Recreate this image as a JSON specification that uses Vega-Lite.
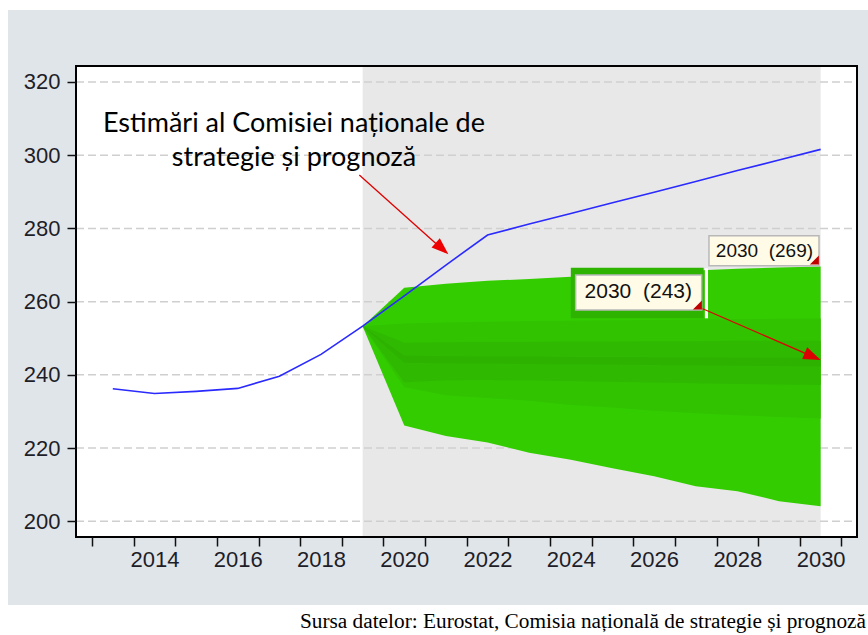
{
  "$schema": "https://vega.github.io/schema/vega-lite/v6.json",
  "width": 781,
  "height": 471,
  "autosize": {"type": "none"},
  "padding": {"left": 76, "top": 66, "right": 11, "bottom": 98},
  "background": "#ffffff",
  "config": {"view": {"stroke": null}},
  "datasets": {
    "panel": [{"x": 2010.483, "x2": 2031.4, "y": 177.14, "y2": 339.67}],
    "plot": [{"x": 2012.116, "x2": 2030.873, "y": 195.71, "y2": 324.37}],
    "shade": [{"x": 2019, "x2": 2030, "y": 195.71, "y2": 324.37}],
    "grid": [
      {"x": 2012.116, "x2": 2030.873, "y": 200},
      {"x": 2012.116, "x2": 2030.873, "y": 220},
      {"x": 2012.116, "x2": 2030.873, "y": 240},
      {"x": 2012.116, "x2": 2030.873, "y": 260},
      {"x": 2012.116, "x2": 2030.873, "y": 280},
      {"x": 2012.116, "x2": 2030.873, "y": 300},
      {"x": 2012.116, "x2": 2030.873, "y": 320}
    ],
    "fanA": [
      {"x": 2019, "y": 253.3, "y2": 253.3},
      {"x": 2020, "y": 226.2, "y2": 263.8},
      {"x": 2021, "y": 223.3, "y2": 264.9},
      {"x": 2022, "y": 221.5, "y2": 265.7},
      {"x": 2023, "y": 218.7, "y2": 266.2},
      {"x": 2024, "y": 216.8, "y2": 266.8},
      {"x": 2025, "y": 214.5, "y2": 267.3},
      {"x": 2026, "y": 212.3, "y2": 267.9},
      {"x": 2027, "y": 209.6, "y2": 268.5},
      {"x": 2028, "y": 208.2, "y2": 269.0},
      {"x": 2029, "y": 205.5, "y2": 269.3},
      {"x": 2030, "y": 204.1, "y2": 269.6}
    ],
    "fanB": [
      {"x": 2019, "y": 253.3, "y2": 253.3},
      {"x": 2020, "y": 236.6, "y2": 254.0},
      {"x": 2021, "y": 234.4, "y2": 254.3},
      {"x": 2022, "y": 233.7, "y2": 254.5},
      {"x": 2023, "y": 232.9, "y2": 254.7},
      {"x": 2024, "y": 231.8, "y2": 254.8},
      {"x": 2025, "y": 231.1, "y2": 254.9},
      {"x": 2026, "y": 230.2, "y2": 255.0},
      {"x": 2027, "y": 229.5, "y2": 255.1},
      {"x": 2028, "y": 229.0, "y2": 255.2},
      {"x": 2029, "y": 228.5, "y2": 255.3},
      {"x": 2030, "y": 228.1, "y2": 255.4}
    ],
    "fanC": [
      {"x": 2019, "y": 253.3, "y2": 253.3},
      {"x": 2020, "y": 238.0, "y2": 248.8},
      {"x": 2021, "y": 238.5, "y2": 248.9},
      {"x": 2022, "y": 238.6, "y2": 249.0},
      {"x": 2023, "y": 238.5, "y2": 249.0},
      {"x": 2024, "y": 238.3, "y2": 249.1},
      {"x": 2025, "y": 238.1, "y2": 249.1},
      {"x": 2026, "y": 237.9, "y2": 249.2},
      {"x": 2027, "y": 237.7, "y2": 249.2},
      {"x": 2028, "y": 237.5, "y2": 249.3},
      {"x": 2029, "y": 237.4, "y2": 249.3},
      {"x": 2030, "y": 237.2, "y2": 249.3}
    ],
    "fanD": [
      {"x": 2019, "y": 253.3, "y2": 253.3},
      {"x": 2020, "y": 243.3, "y2": 245.2},
      {"x": 2021, "y": 243.2, "y2": 245.1},
      {"x": 2022, "y": 243.1, "y2": 245.0},
      {"x": 2023, "y": 243.0, "y2": 245.0},
      {"x": 2024, "y": 242.9, "y2": 244.9},
      {"x": 2025, "y": 242.8, "y2": 244.9},
      {"x": 2026, "y": 242.7, "y2": 244.8},
      {"x": 2027, "y": 242.6, "y2": 244.8},
      {"x": 2028, "y": 242.5, "y2": 244.7},
      {"x": 2029, "y": 242.4, "y2": 244.7},
      {"x": 2030, "y": 242.3, "y2": 244.6}
    ],
    "overlay": [{"x": 2024.0, "x2": 2027.19, "y": 255.45, "y2": 269.27}],
    "whiteline": [{"x": 2027.22, "x2": 2027.294, "y": 255.45, "y2": 269.1}],
    "blue": [
      {"x": 2013, "y": 236.2},
      {"x": 2014, "y": 234.9},
      {"x": 2015, "y": 235.5},
      {"x": 2016, "y": 236.3},
      {"x": 2017, "y": 239.6},
      {"x": 2018, "y": 245.6},
      {"x": 2019, "y": 253.3},
      {"x": 2020, "y": 261.6},
      {"x": 2021, "y": 270.0},
      {"x": 2022, "y": 278.2},
      {"x": 2023, "y": 281.2},
      {"x": 2024, "y": 284.1},
      {"x": 2025, "y": 287.0},
      {"x": 2026, "y": 289.9},
      {"x": 2027, "y": 292.8},
      {"x": 2028, "y": 295.8},
      {"x": 2029, "y": 298.7},
      {"x": 2030, "y": 301.6}
    ],
    "arrows": [
      {"x": 2018.92, "y": 294.6, "x2": 2021.0, "y2": 273.4},
      {"x": 2027.14, "y": 258.19, "x2": 2029.95, "y2": 244.3}
    ],
    "tip1": [{"x": 2021.06, "y": 272.93}],
    "tip2": [{"x": 2030.0, "y": 244.06}],
    "boxes": [
      {"x": 2024.116, "x2": 2027.142, "y": 257.72, "y2": 267.28},
      {"x": 2027.318, "x2": 2029.96, "y": 269.82, "y2": 278.02}
    ],
    "corners": [
      {"x": 2027.04, "y": 259.09},
      {"x": 2029.85, "y": 271.38}
    ],
    "lab243": [{"x": 2025.62, "y": 262.64, "t": "2030 \u00a0(243)"}],
    "lab269": [{"x": 2028.65, "y": 273.78, "t": "2030 \u00a0(269)"}],
    "note": [{"x": 2017.351, "y": 306.42, "t": "Estimări al Comisiei naționale de\nstrategie și prognoză"}],
    "source": [{"x": 2031.088, "y": 170.86, "t": "Sursa datelor: Eurostat, Comisia națională de strategie și prognoză"}]
  },
  "encoding": {
    "x": {
      "field": "x",
      "type": "quantitative",
      "scale": {"domain": [2012.116, 2030.873], "nice": false, "zero": false},
      "axis": {
        "title": null,
        "orient": "bottom",
        "values": [2012.5, 2013.5, 2014.5, 2015.5, 2016.5, 2017.5, 2018.5, 2019.5, 2020.5, 2021.5, 2022.5, 2023.5, 2024.5, 2025.5, 2026.5, 2027.5, 2028.5, 2029.5, 2030.5],
        "labelExpr": "(datum.value + 0.5) % 2 == 0 ? format(datum.value + 0.5, 'd') : ''",
        "labelOffset": 20.8,
        "labelOverlap": false,
        "labelFlush": false,
        "labelBound": false,
        "labelFont": "Liberation Sans",
        "labelFontSize": 22,
        "labelColor": "#1e1e28",
        "labelPadding": 3,
        "tickSize": 9,
        "tickWidth": 1.5,
        "tickColor": "#111111",
        "domain": false,
        "grid": false,
        "zindex": 1
      }
    },
    "y": {
      "field": "y",
      "type": "quantitative",
      "scale": {"domain": [195.71, 324.37], "nice": false, "zero": false},
      "axis": {
        "title": null,
        "values": [200, 220, 240, 260, 280, 300, 320],
        "format": "d",
        "labelFont": "Liberation Sans",
        "labelFontSize": 22,
        "labelColor": "#1e1e28",
        "labelPadding": 7,
        "tickSize": 9,
        "tickWidth": 1.5,
        "tickColor": "#111111",
        "domain": false,
        "grid": false,
        "zindex": 1
      }
    }
  },
  "layer": [
    {"data": {"name": "panel"}, "mark": {"type": "rect", "fill": "#e0e5ea", "clip": false}, "encoding": {"x2": {"field": "x2"}, "y2": {"field": "y2"}}},
    {"data": {"name": "plot"}, "mark": {"type": "rect", "fill": "#ffffff"}, "encoding": {"x2": {"field": "x2"}, "y2": {"field": "y2"}}},
    {"data": {"name": "shade"}, "mark": {"type": "rect", "fill": "#e8e8e8"}, "encoding": {"x2": {"field": "x2"}, "y2": {"field": "y2"}}},
    {"data": {"name": "grid"}, "mark": {"type": "rule", "stroke": "#cfcfcf", "strokeWidth": 1.5, "strokeDash": [8, 4]}, "encoding": {"x2": {"field": "x2"}}},
    {"data": {"name": "fanA"}, "mark": {"type": "area", "fill": "#33cc00", "interpolate": "linear"}, "encoding": {"y2": {"field": "y2"}}},
    {"data": {"name": "fanB"}, "mark": {"type": "area", "fill": "#31c300", "interpolate": "linear"}, "encoding": {"y2": {"field": "y2"}}},
    {"data": {"name": "fanC"}, "mark": {"type": "area", "fill": "#2fb900", "interpolate": "linear"}, "encoding": {"y2": {"field": "y2"}}},
    {"data": {"name": "fanD"}, "mark": {"type": "area", "fill": "#2db200", "interpolate": "linear"}, "encoding": {"y2": {"field": "y2"}}},
    {"data": {"name": "overlay"}, "mark": {"type": "rect", "fill": "#2eb300"}, "encoding": {"x2": {"field": "x2"}, "y2": {"field": "y2"}}},
    {"data": {"name": "whiteline"}, "mark": {"type": "rect", "fill": "#ffffff"}, "encoding": {"x2": {"field": "x2"}, "y2": {"field": "y2"}}},
    {"data": {"name": "blue"}, "mark": {"type": "line", "stroke": "#2a2aff", "strokeWidth": 1.6, "interpolate": "linear"}, "encoding": {}},
    {"data": {"name": "arrows"}, "mark": {"type": "rule", "stroke": "#e00000", "strokeWidth": 1.3}, "encoding": {"x2": {"field": "x2"}, "y2": {"field": "y2"}}},
    {"data": {"name": "tip1"}, "mark": {"type": "point", "shape": "M0,0 L-2.2,-0.8 L-2.2,0.8 Z", "size": 240, "filled": true, "fill": "#ee0000", "stroke": null, "opacity": 1, "angle": 41.7}, "encoding": {}},
    {"data": {"name": "tip2"}, "mark": {"type": "point", "shape": "M0,0 L-2.2,-0.8 L-2.2,0.8 Z", "size": 250, "filled": true, "fill": "#dd0000", "stroke": null, "opacity": 1, "angle": 23.4}, "encoding": {}},
    {"data": {"name": "boxes"}, "mark": {"type": "rect", "fill": "#fffbe6", "stroke": "#b8b8b8", "strokeWidth": 1.5}, "encoding": {"x2": {"field": "x2"}, "y2": {"field": "y2"}}},
    {"data": {"name": "corners"}, "mark": {"type": "point", "shape": "M1,-1 L1,1 L-1,1 Z", "size": 81, "filled": true, "fill": "#c00000", "stroke": null, "opacity": 1}, "encoding": {}},
    {"data": {"name": "lab243"}, "mark": {"type": "text", "font": "Liberation Sans", "fontSize": 21, "fill": "#111111", "align": "center", "baseline": "middle"}, "encoding": {"text": {"field": "t"}}},
    {"data": {"name": "lab269"}, "mark": {"type": "text", "font": "Liberation Sans", "fontSize": 19, "fill": "#111111", "align": "center", "baseline": "middle"}, "encoding": {"text": {"field": "t"}}},
    {"data": {"name": "note"}, "mark": {"type": "text", "font": "Lato", "fontSize": 27, "lineHeight": 34, "lineBreak": "\n", "fill": "#000000", "align": "center", "baseline": "alphabetic"}, "encoding": {"text": {"field": "t"}}},
    {"data": {"name": "source"}, "mark": {"type": "text", "font": "Liberation Serif", "fontSize": 21.3, "fill": "#000000", "align": "right", "baseline": "alphabetic", "clip": false}, "encoding": {"text": {"field": "t"}}},
    {"data": {"name": "plot"}, "mark": {"type": "rect", "fill": null, "fillOpacity": 0, "stroke": "#000000", "strokeWidth": 2}, "encoding": {"x2": {"field": "x2"}, "y2": {"field": "y2"}}}
  ]
}
